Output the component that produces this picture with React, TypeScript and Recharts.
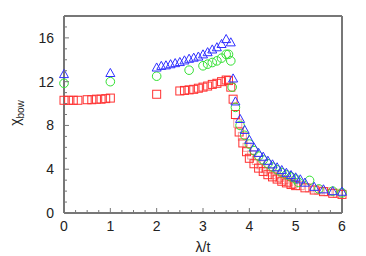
import { ScatterChart, Scatter, XAxis, YAxis } from "recharts";

// data: [lambda/t, chi_bow]
const blueTri = [
  [0, 12.7], [1, 12.8], [2.0, 13.3], [2.1, 13.45], [2.2, 13.5], [2.3, 13.6], [2.4, 13.7],
  [2.5, 13.8], [2.6, 13.95], [2.7, 14.1], [2.8, 14.2], [2.9, 14.3], [3.0, 14.5], [3.1, 14.7],
  [3.2, 14.95], [3.3, 15.15], [3.4, 15.45], [3.5, 15.9], [3.6, 15.6], [3.65, 12.3], [3.7, 10.2],
  [3.8, 8.6], [3.9, 7.6], [4.0, 6.7], [4.1, 6.0], [4.2, 5.5], [4.3, 5.15], [4.4, 4.78],
  [4.5, 4.45], [4.6, 4.18], [4.7, 3.93], [4.8, 3.68], [4.9, 3.47], [5.0, 3.26], [5.1, 3.08],
  [5.2, 2.78], [5.4, 2.4], [5.6, 2.17], [5.8, 2.0], [6.0, 1.95],
];

const greenCirc = [
  [0, 11.85], [1, 12.0], [2.0, 12.5], [2.7, 13.05], [3.0, 13.45], [3.1, 13.6], [3.2, 13.75],
  [3.3, 13.9], [3.4, 14.15], [3.5, 14.5], [3.55, 14.5], [3.6, 13.9], [3.63, 11.5], [3.7, 9.65],
  [3.8, 8.0], [3.9, 7.1], [4.0, 6.3], [4.1, 5.7], [4.2, 5.2], [4.3, 4.85], [4.4, 4.5],
  [4.5, 4.2], [4.6, 3.95], [4.7, 3.7], [4.8, 3.5], [4.9, 3.3], [5.0, 3.1], [5.06, 2.8],
  [5.3, 2.98], [5.5, 2.2], [5.8, 2.0], [6.0, 1.85],
];

const redSq = [
  [0, 10.3], [0.1, 10.3], [0.2, 10.3], [0.3, 10.3], [0.5, 10.35], [0.6, 10.35], [0.7, 10.4],
  [0.8, 10.4], [0.9, 10.45], [1.0, 10.5], [2.0, 10.85], [2.5, 11.15], [2.6, 11.2], [2.7, 11.25],
  [2.8, 11.3], [2.9, 11.4], [3.0, 11.5], [3.1, 11.6], [3.2, 11.75], [3.3, 11.85], [3.4, 12.0],
  [3.5, 12.15], [3.55, 12.1], [3.6, 11.5], [3.65, 10.4], [3.7, 9.0], [3.78, 7.4], [3.86, 6.4],
  [3.94, 5.6], [4.0, 5.0], [4.1, 4.5], [4.2, 4.1], [4.3, 3.8], [4.4, 3.5], [4.5, 3.3],
  [4.6, 3.1], [4.7, 2.9], [4.8, 2.75], [4.9, 2.6], [5.0, 2.5], [5.2, 2.3], [5.4, 2.1],
  [5.6, 1.95], [5.8, 1.8], [6.0, 1.7],
];

const pinkSq = [
  [3.75, 8.2], [3.85, 7.0], [3.95, 6.0], [4.05, 5.3], [4.15, 4.8], [4.25, 4.4], [4.35, 4.05],
  [4.45, 3.75], [4.55, 3.5], [4.65, 3.25], [4.75, 3.05], [4.85, 2.85], [4.95, 2.7], [5.1, 2.5],
  [5.3, 2.3], [5.5, 2.1], [5.7, 1.95], [5.9, 1.8],
];

const xTicks = Array.from({ length: 25 }, (_, i) => i * 0.25);
const yTicks = Array.from({ length: 19 }, (_, i) => i);
const yLabels = [0, 4, 8, 12, 16];

const toPts = (arr: number[][]) => arr.map(([x, y]) => ({ x, y }));

const AXIS = "#777";
const FONT = "'Liberation Sans', Arial, sans-serif";

const Tri = (p: any) => {
  const { cx, cy } = p;
  const s = 4.5;
  return (
    <polygon
      points={`${cx},${cy - s} ${cx - s},${cy + s * 0.8} ${cx + s},${cy + s * 0.8}`}
      fill="none"
      stroke="#3030ff"
      strokeWidth={1}
    />
  );
};
const Circ = (p: any) => (
  <circle cx={p.cx} cy={p.cy} r={4.3} fill="none" stroke="#33e033" strokeWidth={1} />
);
const Sq = (color: string) => (p: any) => (
  <rect x={p.cx - 4} y={p.cy - 4} width={8} height={8} fill="none" stroke={color} strokeWidth={1} />
);

const makeXTick = (dir: number, label: boolean) => (p: any) => {
  const { x, y, payload } = p;
  const v = payload.value;
  const major = Math.abs(v - Math.round(v)) < 1e-6;
  const len = major ? 5 : 3;
  return (
    <g>
      <line x1={x} x2={x} y1={y} y2={y + dir * len} stroke={AXIS} strokeWidth={1} />
      {label && major && (
        <text x={x} y={y + 18} textAnchor="middle" fontSize={14} fontFamily={FONT} fill="#222">
          {v}
        </text>
      )}
    </g>
  );
};

const makeYTick = (dir: number, label: boolean) => (p: any) => {
  const { x, y, payload } = p;
  const v = payload.value;
  const major = v % 4 === 0;
  const len = major ? 5 : 3;
  return (
    <g>
      <line x1={x} x2={x + dir * len} y1={y} y2={y} stroke={AXIS} strokeWidth={1} />
      {label && major && yLabels.includes(v) && (
        <text x={x - 10} y={y + 5} textAnchor="end" fontSize={14} fontFamily={FONT} fill="#222">
          {v}
        </text>
      )}
    </g>
  );
};

export default function App() {
  return (
    <div style={{ position: "absolute", left: 0, top: 0, width: 366, height: 256, background: "#fff" }}>
      <ScatterChart width={366} height={256} margin={{ top: 15, right: 23, left: 0, bottom: 0 }}>
        <XAxis
          xAxisId="b"
          type="number"
          dataKey="x"
          domain={[0, 6]}
          ticks={xTicks}
          interval={0}
          height={43}
          tickSize={0}
          tickMargin={0}
          tickLine={false}
          axisLine={{ stroke: AXIS, strokeWidth: 2 }}
          tick={makeXTick(-1, true)}
        />
        <XAxis
          xAxisId="t"
          orientation="top"
          type="number"
          dataKey="x"
          domain={[0, 6]}
          ticks={xTicks}
          interval={0}
          height={1}
          tickSize={0}
          tickMargin={0}
          tickLine={false}
          axisLine={{ stroke: AXIS, strokeWidth: 2 }}
          tick={makeXTick(1, false)}
        />
        <YAxis
          yAxisId="l"
          type="number"
          dataKey="y"
          domain={[0, 18]}
          ticks={yTicks}
          interval={0}
          width={64}
          tickSize={0}
          tickMargin={0}
          tickLine={false}
          axisLine={{ stroke: AXIS, strokeWidth: 2 }}
          tick={makeYTick(1, true)}
        />
        <YAxis
          yAxisId="r"
          orientation="right"
          type="number"
          dataKey="y"
          domain={[0, 18]}
          ticks={yTicks}
          interval={0}
          width={1}
          tickSize={0}
          tickMargin={0}
          tickLine={false}
          axisLine={{ stroke: AXIS, strokeWidth: 2 }}
          tick={makeYTick(-1, false)}
        />
        <Scatter xAxisId="b" yAxisId="l" data={toPts(pinkSq)} shape={Sq("#f5a0a0")} isAnimationActive={false} />
        <Scatter xAxisId="b" yAxisId="l" data={toPts(redSq)} shape={Sq("#ff3030")} isAnimationActive={false} />
        <Scatter xAxisId="b" yAxisId="l" data={toPts(greenCirc)} shape={Circ} isAnimationActive={false} />
        <Scatter xAxisId="b" yAxisId="l" data={toPts(blueTri)} shape={Tri} isAnimationActive={false} />
        <text x={20} y={113} transform="rotate(-90 20 113)" textAnchor="middle" fontSize={14} fontFamily={FONT} fill="#222">
          χ<tspan fontSize={10} dy={4}>bow</tspan>
        </text>
        <text x={203} y={252} textAnchor="middle" fontSize={14} fontFamily={FONT} fill="#222">
          λ/t
        </text>
      </ScatterChart>
    </div>
  );
}
